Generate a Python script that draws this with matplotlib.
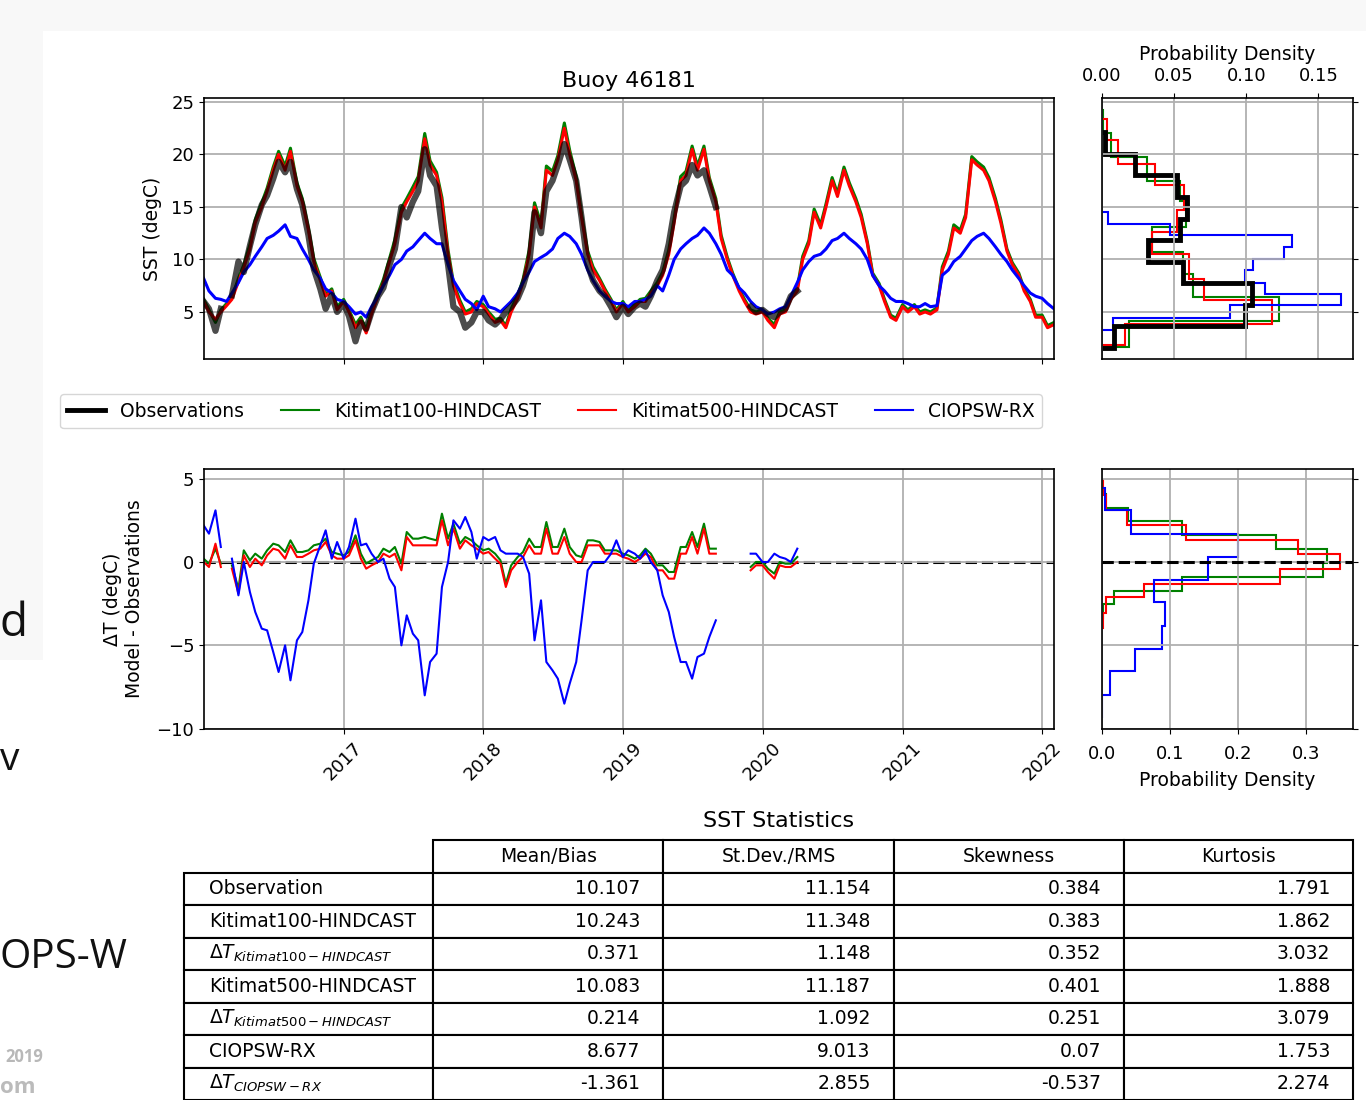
import numpy as np
import pandas as pd
import matplotlib
matplotlib.use('Agg')
import matplotlib.pyplot as plt
import matplotlib.dates as mdates
from matplotlib.table import Table
from matplotlib.patches import Rectangle
from matplotlib.lines import Line2D

nan = np.nan

dates = pd.date_range('2016-01-01', '2022-02-01', freq='SMS')

obs_2016 = [6.0, 5.3, 3.2, 5.3, nan, 6.6, 9.8, 8.8, 11.3, 13.3, 15.2, 16.1, 17.7, 19.3, 18.3, 19.3, 16.7, 15.2, 12.3, 9.1, 7.2, 5.3, 6.6, 5.0]
obs_2017 = [5.8, 4.6, 2.2, 4.0, 3.4, 5.0, 6.5, 7.3, 9.5, 11.0, 15.0, 14.0, 15.5, 16.5, 20.5, 18.0, 17.0, 13.0, 9.5, 5.5, 5.0, 3.5, 4.0, 5.0]
obs_2018 = [5.0, 4.2, 3.8, 4.3, 5.0, 5.5, 6.3, 7.5, 9.5, 14.5, 12.5, 16.5, 17.5, 19.0, 21.0, 19.5, 17.5, 14.0, 9.5, 8.0, 7.0, 6.5, 5.5, 4.5]
obs_2019 = [5.5, 4.8, 5.5, 5.8, 5.5, 6.5, 8.0, 9.0, 11.5, 14.5, 17.0, 17.5, 19.0, 18.0, 18.5, 17.0, 15.0, nan, nan, nan, nan, nan, 5.5, 5.0]
obs_2020 = [5.2, 4.8, 4.5, 5.0, 5.3, 6.5, 7.0] + [nan] * 17
obs_2021 = [nan] * 24
obs_2022 = [nan] * 3

k100_2016 = [6.2, 5.2, 4.0, 5.2, 5.8, 6.4, 8.2, 9.5, 11.4, 13.8, 15.4, 16.8, 18.8, 20.3, 18.9, 20.6, 17.3, 15.8, 13.0, 10.1, 8.3, 6.7, 7.2, 5.5]
k100_2017 = [6.2, 5.2, 3.8, 4.5, 3.3, 5.1, 6.8, 8.1, 10.1, 11.9, 14.9, 15.8, 16.9, 17.9, 22.0, 19.4, 18.3, 15.9, 10.9, 7.8, 6.1, 5.0, 5.3, 6.0]
k100_2018 = [5.7, 5.0, 4.3, 4.4, 3.7, 5.3, 6.6, 8.1, 10.9, 15.4, 13.4, 18.9, 18.4, 19.9, 23.0, 20.4, 17.9, 14.3, 10.8, 9.3, 8.2, 7.2, 6.2, 5.2]
k100_2019 = [6.0, 5.2, 5.7, 6.2, 6.3, 7.0, 7.8, 8.8, 10.9, 13.9, 17.9, 18.4, 20.8, 18.9, 20.8, 17.8, 15.8, 12.3, 10.2, 8.7, 7.2, 6.2, 5.2, 5.0]
k100_2020 = [5.2, 4.4, 3.8, 5.0, 5.2, 6.4, 7.3, 10.3, 11.8, 14.8, 13.3, 15.3, 17.8, 16.3, 18.8, 17.3, 15.8, 14.3, 11.7, 8.7, 7.7, 6.2, 4.7, 4.4]
k100_2021 = [5.7, 5.2, 5.7, 5.0, 5.2, 5.0, 5.4, 9.3, 10.8, 13.3, 12.8, 14.3, 19.8, 19.3, 18.8, 17.8, 15.8, 13.8, 11.0, 9.7, 8.7, 7.2, 6.2, 4.7]
k100_2022 = [4.7, 3.7, 4.0]

k500_2016 = [6.0, 5.0, 4.3, 5.0, 5.6, 6.2, 7.9, 9.2, 11.0, 13.5, 15.0, 16.5, 18.5, 20.0, 18.5, 20.3, 17.0, 15.5, 12.8, 9.8, 8.0, 6.5, 7.0, 5.2]
k500_2017 = [6.0, 5.0, 3.5, 4.2, 3.0, 4.8, 6.5, 7.8, 9.8, 11.5, 14.5, 15.5, 16.5, 17.5, 21.5, 19.0, 18.0, 15.5, 10.5, 7.5, 5.8, 4.8, 5.0, 5.8]
k500_2018 = [5.5, 4.8, 4.0, 4.2, 3.5, 5.0, 6.3, 7.8, 10.5, 15.0, 13.0, 18.5, 18.0, 19.5, 22.5, 20.0, 17.5, 14.0, 10.5, 9.0, 8.0, 7.0, 6.0, 5.0]
k500_2019 = [5.8, 5.0, 5.5, 6.0, 6.0, 6.8, 7.5, 8.5, 10.5, 13.5, 17.5, 18.0, 20.5, 18.5, 20.5, 17.5, 15.5, 12.0, 10.0, 8.5, 7.0, 6.0, 5.0, 4.8]
k500_2020 = [5.0, 4.2, 3.5, 4.8, 5.0, 6.2, 7.0, 10.0, 11.5, 14.5, 13.0, 15.0, 17.5, 16.0, 18.5, 17.0, 15.5, 14.0, 11.5, 8.5, 7.5, 6.0, 4.5, 4.2]
k500_2021 = [5.5, 5.0, 5.5, 4.8, 5.0, 4.8, 5.2, 9.0, 10.5, 13.0, 12.5, 14.0, 19.5, 19.0, 18.5, 17.5, 15.5, 13.5, 10.8, 9.5, 8.5, 7.0, 6.0, 4.5]
k500_2022 = [4.5, 3.5, 3.8]

ciops_2016 = [8.2, 7.0, 6.3, 6.2, 6.0, 6.8, 7.8, 8.8, 9.5, 10.3, 11.2, 12.0, 12.3, 12.7, 13.3, 12.2, 12.0, 11.0, 10.0, 9.0, 8.2, 7.2, 6.8, 6.2]
ciops_2017 = [6.0, 5.5, 4.8, 5.0, 4.5, 5.5, 6.5, 7.5, 8.5, 9.5, 10.0, 10.8, 11.2, 11.8, 12.5, 12.0, 11.5, 11.5, 9.5, 8.0, 7.0, 6.2, 5.8, 5.2]
ciops_2018 = [6.5, 5.5, 5.3, 5.0, 5.5, 6.0, 6.8, 7.8, 8.8, 9.8, 10.2, 10.5, 11.0, 12.0, 12.5, 12.2, 11.5, 10.5, 9.0, 8.0, 7.0, 6.5, 6.0, 5.8]
ciops_2019 = [5.8, 5.5, 6.0, 6.0, 6.2, 6.5, 7.5, 7.0, 8.5, 10.0, 11.0, 11.5, 12.0, 12.3, 13.0, 12.5, 11.5, 10.5, 9.0, 8.5, 7.3, 6.8, 6.0, 5.5]
ciops_2020 = [5.2, 4.8, 5.0, 5.3, 5.5, 6.5, 7.8, 9.0, 9.8, 10.3, 10.5, 11.0, 11.8, 12.0, 12.5, 12.0, 11.5, 11.0, 10.0, 8.5, 7.5, 7.0, 6.3, 6.0]
ciops_2021 = [6.0, 5.8, 5.5, 5.5, 5.8, 5.5, 5.6, 8.5, 9.0, 9.8, 10.3, 11.0, 11.8, 12.2, 12.5, 12.0, 11.2, 10.5, 9.8, 9.0, 8.2, 7.5, 6.8, 6.5]
ciops_2022 = [6.3, 5.8, 5.3]

obs = np.array(obs_2016 + obs_2017 + obs_2018 + obs_2019 + obs_2020 + obs_2021 + obs_2022)
k100 = np.array(k100_2016 + k100_2017 + k100_2018 + k100_2019 + k100_2020 + k100_2021 + k100_2022)
k500 = np.array(k500_2016 + k500_2017 + k500_2018 + k500_2019 + k500_2020 + k500_2021 + k500_2022)
ciops = np.array(ciops_2016 + ciops_2017 + ciops_2018 + ciops_2019 + ciops_2020 + ciops_2021 + ciops_2022)

# SST histograms (bin edges degC, probability density)
obs_edges = [1.6, 3.65, 5.7, 7.75, 9.8, 11.85, 13.9, 15.95, 18.0, 20.05, 22.1]
obs_dens = [0.008, 0.099, 0.104, 0.056, 0.032, 0.054, 0.059, 0.052, 0.023, 0.002]
k100_edges = [1.7, 4.1, 6.4, 8.6, 10.7, 13.1, 15.6, 17.5, 19.8, 22.0, 24.2]
k100_dens = [0.0185, 0.123, 0.063, 0.056, 0.035, 0.058, 0.054, 0.031, 0.006, 0.001]
k500_edges = [1.83, 3.9, 6.1, 8.17, 10.56, 12.6, 14.75, 17.06, 19.1, 21.35, 23.4]
k500_dens = [0.016, 0.118, 0.071, 0.060, 0.035, 0.052, 0.057, 0.037, 0.011, 0.0035]
ciops_edges = [3.32, 4.43, 5.63, 6.75, 7.79, 8.97, 10.08, 11.19, 12.3, 13.41, 14.52]
ciops_dens = [0.0074, 0.089, 0.166, 0.113, 0.099, 0.105, 0.126, 0.132, 0.047, 0.004]

# Model - Observations histograms
dk100_edges = [-3.37, -2.54, -1.71, -0.88, -0.05, 0.78, 1.61, 2.44, 3.27, 4.1]
dk100_dens = [0.0013, 0.018, 0.118, 0.325, 0.33, 0.255, 0.117, 0.038, 0.0064]
dk500_edges = [-3.96, -3.06, -2.12, -1.3, -0.4, 0.48, 1.34, 2.2, 3.14, 4.02, 4.9]
dk500_dens = [0.0013, 0.0064, 0.061, 0.261, 0.35, 0.288, 0.123, 0.036, 0.0064, 0.0013]
dciops_edges = [-9.36, -7.96, -6.56, -5.22, -3.86, -2.42, -1.06, 0.3, 1.68, 3.1, 4.44]
dciops_dens = [0.0005, 0.0115, 0.048, 0.088, 0.093, 0.077, 0.155, 0.2, 0.042, 0.004]

# statistics table
stat_names = ['Mean/Bias', 'St.Dev./RMS', 'Skewness', 'Kurtosis']
row_names = ['Observation', 'Kitimat100-HINDCAST', r'$\Delta T_{Kitimat100-HINDCAST}$',
             'Kitimat500-HINDCAST', r'$\Delta T_{Kitimat500-HINDCAST}$',
             'CIOPSW-RX', r'$\Delta T_{CIOPSW-RX}$']
mean_bias = [10.107, 10.243, 0.371, 10.083, 0.214, 8.677, -1.361]
std_rms = [11.154, 11.348, 1.148, 11.187, 1.092, 9.013, 2.855]
skewness = [0.384, 0.383, 0.352, 0.401, 0.251, 0.07, -0.537]
kurtosis = [1.791, 1.862, 3.032, 1.888, 3.079, 1.753, 2.274]

plt.rcParams['font.size'] = 13.5
plt.rcParams['axes.linewidth'] = 1.2

W, H = 1366, 1100
fig = plt.figure(figsize=(13.66, 11.0), dpi=100)


def box(x0, y0, x1, y1):
    return [x0 / W, 1 - y1 / H, (x1 - x0) / W, (y1 - y0) / H]


def fig_rect(x0, y0, x1, y1, color, z):
    fig.add_artist(Rectangle((x0 / W, 1 - y1 / H), (x1 - x0) / W, (y1 - y0) / H,
                             transform=fig.transFigure, facecolor=color,
                             edgecolor='none', zorder=z))


# slide behind the figure
fig_rect(0, 0, W, 31, '#f8f8f8', -3)
fig_rect(0, 31, 43, 660, '#f8f8f8', -3)
slide_kw = dict(family='Open Sans', color='#111111', va='baseline', zorder=-2)
fig.text(0, 1 - 636 / H, 'd', fontsize=33, **slide_kw)
fig.text(0, 1 - 770 / H, 'v', fontsize=28, **slide_kw)
fig.text(0, 1 - 968 / H, 'OPS-W', fontsize=29, **slide_kw)
fig.text(5 / W, 1 - 1062 / H, '2019', fontsize=12, weight='bold', color='#b8b8b8',
         va='baseline', family='Open Sans', zorder=-2)
fig.text(0, 1 - 1093 / H, 'om', fontsize=16, weight='bold', color='#bbbbbb',
         va='baseline', family='Open Sans', zorder=-2)
fig_rect(43, 31, W, 660, 'white', -1)

ax1 = fig.add_axes(box(204, 98, 1054, 359))
axh1 = fig.add_axes(box(1102, 98, 1353, 359), sharey=ax1)
ax2 = fig.add_axes(box(204, 469, 1054, 729), sharex=ax1)
axh2 = fig.add_axes(box(1102, 469, 1353, 729), sharey=ax2)
axt = fig.add_axes(box(184, 840, 1353, 1100))

grid_kw = dict(color='#b0b0b0', lw=1.3)

# SST time series
ax1.plot(dates, k100, color='green', lw=2.2)
ax1.plot(dates, k500, color='red', lw=2.2)
ax1.plot(dates, ciops, color='blue', lw=2.2)
ax1.plot(dates, obs, color='black', lw=4.5, alpha=0.7)
ax1.set_ylim(0.52, 25.38)
ax1.set_yticks([5, 10, 15, 20, 25])
ax1.set_ylabel('SST (degC)', labelpad=7)
ax1.set_title('Buoy 46181', fontsize=16, pad=8)
ax1.tick_params(labelbottom=False, labelsize=13)
ax1.grid(True, **grid_kw)

# differences
ax2.axhline(0, color='black', ls='--', lw=2.2, zorder=1.5)
ax2.plot(dates, k100 - obs, color='green', lw=1.5)
ax2.plot(dates, k500 - obs, color='red', lw=1.5)
ax2.plot(dates, ciops - obs, color='blue', lw=1.5)
ax2.set_ylim(-10.02, 5.58)
ax2.set_yticks([-10, -5, 0, 5])
ax2.set_ylabel('ΔT (degC)\nModel - Observations', labelpad=9)
ax2.xaxis.set_major_locator(mdates.YearLocator())
ax2.xaxis.set_major_formatter(mdates.DateFormatter('%Y'))
ax2.set_xlim(pd.Timestamp('2016-01-02'), pd.Timestamp('2022-02-01'))
ax2.tick_params(axis='x', labelrotation=45)
ax2.tick_params(labelsize=13)
ax2.grid(True, **grid_kw)

# SST distributions
axh1.stairs(k100_dens, k100_edges, orientation='horizontal', color='green', lw=1.5)
axh1.stairs(k500_dens, k500_edges, orientation='horizontal', color='red', lw=1.5)
axh1.stairs(ciops_dens, ciops_edges, orientation='horizontal', color='blue', lw=1.5)
axh1.stairs(obs_dens, obs_edges, orientation='horizontal', color='black', lw=3.5)
axh1.set_xlim(0, 0.174)
axh1.set_xticks([0, 0.05, 0.10, 0.15])
axh1.set_xticklabels(['0.00', '0.05', '0.10', '0.15'])
axh1.xaxis.tick_top()
axh1.xaxis.set_label_position('top')
axh1.set_xlabel('Probability Density', labelpad=5)
axh1.yaxis.tick_right()
axh1.tick_params(labelright=False, labelleft=False, labelsize=13)
axh1.tick_params(axis='x', pad=6)
axh1.grid(True, **grid_kw)

# difference distributions
axh2.stairs(dk100_dens, dk100_edges, orientation='horizontal', color='green', lw=1.5)
axh2.stairs(dk500_dens, dk500_edges, orientation='horizontal', color='red', lw=1.5)
axh2.stairs(dciops_dens, dciops_edges, orientation='horizontal', color='blue', lw=1.5)
axh2.axhline(0, color='black', ls='--', lw=2.2, zorder=5)
axh2.set_xlim(0, 0.3685)
axh2.set_xticks([0, 0.1, 0.2, 0.3])
axh2.set_xlabel('Probability Density', labelpad=6)
axh2.yaxis.tick_right()
axh2.tick_params(labelright=False, labelleft=False, labelsize=13)
axh2.tick_params(axis='x', pad=8)
axh2.grid(True, **grid_kw)

handles = [Line2D([], [], color='black', lw=3.5), Line2D([], [], color='green', lw=1.5),
           Line2D([], [], color='red', lw=1.5), Line2D([], [], color='blue', lw=1.5)]
labels = ['Observations', 'Kitimat100-HINDCAST', 'Kitimat500-HINDCAST', 'CIOPSW-RX']
fig.legend(handles, labels, loc='center', ncol=4, bbox_to_anchor=(551 / W, 1 - 411.5 / H),
           fontsize=13.5, borderaxespad=0)

# statistics table
axt.axis('off')
tab = Table(axt, bbox=[0, 0, 1, 1])
col_w = np.array([249, 230, 230, 230, 229]) / 1168.0
row_h = 1.0 / 8
blank = tab.add_cell(0, 0, col_w[0], row_h, text='', loc='left')
blank.visible_edges = ''
for j, name in enumerate(stat_names):
    tab.add_cell(0, j + 1, col_w[j + 1], row_h, text=name, loc='center')
columns = [mean_bias, std_rms, skewness, kurtosis]
for i, name in enumerate(row_names):
    tab.add_cell(i + 1, 0, col_w[0], row_h, text=name, loc='left')
    for j, col in enumerate(columns):
        tab.add_cell(i + 1, j + 1, col_w[j + 1], row_h, text=str(col[i]), loc='right')
tab.auto_set_font_size(False)
tab.set_fontsize(13.5)
for cell in tab.get_celld().values():
    cell.set_linewidth(1.5)
axt.add_table(tab)
fig.text(779 / W, 1 - 821 / H, 'SST Statistics', ha='center', va='center', fontsize=16)

fig.savefig('out.png', dpi=100)
